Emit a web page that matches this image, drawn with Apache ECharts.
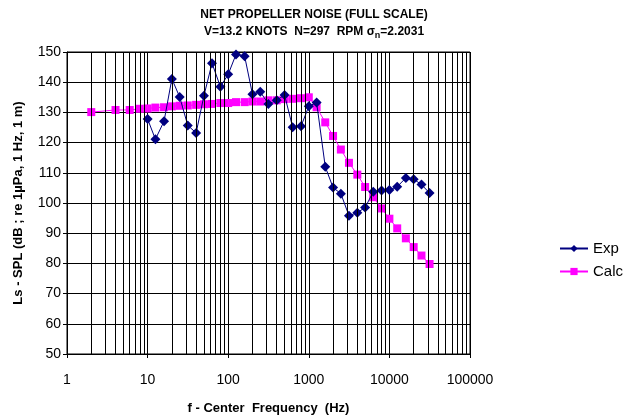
<!DOCTYPE html>
<html>
<head>
<meta charset="utf-8">
<script src="https://cdn.jsdelivr.net/npm/echarts@6/dist/echarts.min.js"></script>
<style>html,body{margin:0;padding:0;background:#fff;}#c{width:628px;height:420px;}</style>
</head>
<body>
<div id="c"></div>
<script>
// Data
const expFreq = [10,12.5,16,20,25,31.5,40,50,63,80,100,125,160,200,250,315,400,500,630,800,1000,1250,1600,2000,2500,3150,4000,5000,6300,8000,10000,12500,16000,20000,25000,31500];
const expSPL  = [127.8,121.1,127.1,141.1,135.1,125.7,123.2,135.5,146.3,138.5,142.6,149.2,148.6,136.0,136.8,132.8,134.0,135.8,125.1,125.4,132.0,133.3,112.0,105.1,103.1,95.8,96.8,98.5,103.7,104.1,104.3,105.4,108.3,107.9,106.1,103.3];
const calcFreq = [2,4,6,8,10,12.5,16,20,25,31.5,40,50,63,80,100,125,160,200,250,315,400,500,630,800,1000,1250,1600,2000,2500,3150,4000,5000,6300,8000,10000,12500,16000,20000,25000,31500];
const calcSPL  = [130.1,130.8,130.8,131.2,131.3,131.6,131.7,132.0,132.2,132.3,132.5,132.7,132.8,133.1,133.1,133.4,133.4,133.6,133.6,134.0,134.0,134.4,134.5,134.7,135.0,131.7,126.7,122.2,117.7,113.3,109.4,105.3,101.9,98.2,94.8,91.6,88.3,85.4,82.6,79.8];
const decades = [1,10,100,1000,10000];
const minorMultipliers = [2,3,4,5,6,7,8,9];
const yTicks = {min:50, max:150, step:10};

const minorGrid = [];
decades.forEach(d => minorMultipliers.forEach(m => minorGrid.push({xAxis: d*m})));

const font = '"Liberation Sans", Arial, sans-serif';
const chart = echarts.init(document.getElementById('c'), null, {renderer:'canvas'});
chart.setOption({
  animation:false,
  backgroundColor:'#fff',
  title:{
    text:'NET PROPELLER NOISE (FULL SCALE)\nV=13.2 KNOTS  N=297  RPM σ{s|n}=2.2031',
    left:309, textAlign:'center', top:1,
    textStyle:{fontFamily:font, fontSize:12, fontWeight:'bold', color:'#000', lineHeight:17,
      rich:{s:{fontFamily:font, fontSize:9, fontWeight:'bold', verticalAlign:'bottom', padding:[6,0,0,0], lineHeight:17}}}
  },
  legend:{
    data:['Exp','Calc'], orient:'vertical', left:554, top:236, itemGap:8,
    itemWidth:28, itemHeight:9,
    textStyle:{fontFamily:font, fontSize:15, color:'#000'}
  },
  grid:{left:67, right:158, top:52, bottom:66, show:true, borderColor:'#000', borderWidth:1},
  xAxis:{
    type:'log', logBase:10, min:1, max:100000,
    name:'f - Center  Frequency  (Hz)', nameLocation:'middle', nameGap:48,
    nameTextStyle:{fontFamily:font, fontSize:13, fontWeight:'bold', color:'#000'},
    axisLine:{lineStyle:{color:'#000'}},
    axisTick:{show:true, length:4, lineStyle:{color:'#000'}},
    axisLabel:{fontFamily:font, fontSize:14, color:'#000', margin:19, formatter:v=>String(Math.round(v))},
    splitLine:{show:true, lineStyle:{color:'#000', width:1}}
  },
  yAxis:{
    type:'value', min:yTicks.min, max:yTicks.max, interval:yTicks.step,
    name:'Ls - SPL (dB ; re 1µPa, 1 Hz, 1 m)', nameLocation:'middle', nameGap:42, nameRotate:90,
    nameTextStyle:{fontFamily:font, fontSize:13, fontWeight:'bold', color:'#000'},
    axisLine:{show:true, lineStyle:{color:'#000'}},
    axisTick:{show:true, length:4, lineStyle:{color:'#000'}},
    axisLabel:{fontFamily:font, fontSize:14, color:'#000', margin:6},
    splitLine:{show:true, lineStyle:{color:'#000', width:1}}
  },
  series:[
    {
      name:'minor', type:'line', data:[[1,50]], symbol:'none', lineStyle:{opacity:0}, z:1, silent:true,
      markLine:{silent:true, symbol:'none', label:{show:false}, animation:false,
        lineStyle:{color:'#000', width:1, type:'solid'}, data:minorGrid}
    },
    {
      name:'Exp', type:'line', z:4,
      data:expFreq.map((f,i)=>[f,expSPL[i]]),
      symbol:'diamond', symbolSize:10,
      itemStyle:{color:'#000080'}, lineStyle:{color:'#000080', width:1}
    },
    {
      name:'Calc', type:'line', z:3,
      data:calcFreq.map((f,i)=>[f,calcSPL[i]]),
      symbol:'rect', symbolSize:8,
      itemStyle:{color:'#FF00FF'}, lineStyle:{color:'#FF00FF', width:1}
    }
  ]
});
</script>
</body>
</html>
